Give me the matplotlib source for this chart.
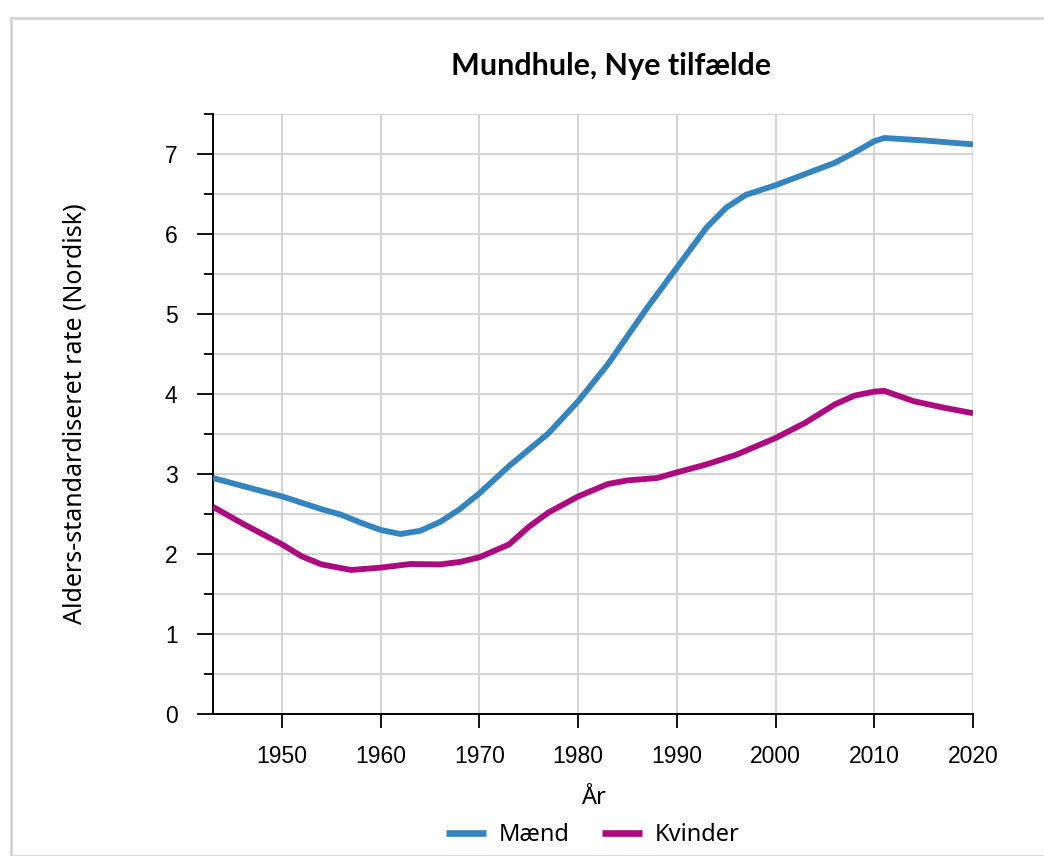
import matplotlib
matplotlib.use("Agg")
import matplotlib.pyplot as plt
from matplotlib.patches import Rectangle
from matplotlib.ticker import MultipleLocator

years_m = [1943, 1946, 1950, 1952, 1954, 1956, 1958, 1960, 1962, 1964, 1966, 1968, 1970, 1973,
           1977, 1980, 1983, 1987, 1990, 1993, 1995, 1997, 2000, 2003, 2006, 2008, 2010, 2011,
           2015, 2020]
maend = [2.95, 2.85, 2.72, 2.64, 2.56, 2.49, 2.39, 2.30, 2.25, 2.29, 2.40, 2.56, 2.76, 3.10,
         3.51, 3.91, 4.37, 5.08, 5.58, 6.08, 6.33, 6.49, 6.61, 6.75, 6.89, 7.02, 7.16, 7.20,
         7.17, 7.12]

years_k = [1943, 1946, 1950, 1952, 1954, 1957, 1960, 1963, 1966, 1968, 1970, 1973, 1975, 1977,
           1980, 1983, 1985, 1988, 1990, 1993, 1996, 2000, 2003, 2006, 2008, 2010, 2011, 2014,
           2017, 2020]
kvinder = [2.59, 2.38, 2.12, 1.97, 1.87, 1.80, 1.83, 1.875, 1.87, 1.90, 1.96, 2.12, 2.34, 2.52,
           2.72, 2.875, 2.92, 2.95, 3.02, 3.12, 3.24, 3.45, 3.64, 3.87, 3.98, 4.03, 4.04, 3.91,
           3.83, 3.76]

x_ticks = [1950, 1960, 1970, 1980, 1990, 2000, 2010, 2020]
y_ticks = [0, 1, 2, 3, 4, 5, 6, 7]

title = "Mundhule, Nye tilfælde"
xlabel = "År"
ylabel = "Alders-standardiseret rate (Nordisk)"
labels = ["Mænd", "Kvinder"]
colors = ["#3484bf", "#ae0a7f"]

fig = plt.figure(figsize=(10.44, 8.56), dpi=100)
fig.patches.append(Rectangle((11 / 1044, 0), 1.2, 1 - 18 / 856, transform=fig.transFigure,
                             fill=False, edgecolor="#d4d4d4", linewidth=2))

ax = fig.add_axes([213 / 1044, 1 - 714 / 856, (973 - 213) / 1044, (714 - 114) / 856])
ax.plot(years_m, maend, color=colors[0], lw=4.2, label=labels[0], solid_capstyle="butt",
        solid_joinstyle="round", zorder=3)
ax.plot(years_k, kvinder, color=colors[1], lw=4.2, label=labels[1], solid_capstyle="butt",
        solid_joinstyle="round", zorder=3)

ax.set_xlim(1943, 2020)
ax.set_ylim(0, 7.5)
ax.set_xticks(x_ticks)
ax.set_yticks(y_ticks)
ax.yaxis.set_minor_locator(MultipleLocator(0.5))
ax.grid(True, which="both", color="#d3d3d3", lw=1.4, zorder=0)
ax.set_axisbelow(True)
for s in ["top", "right"]:
    ax.spines[s].set_visible(False)
for s in ["left", "bottom"]:
    ax.spines[s].set_linewidth(1.4)
    ax.spines[s].set_color("black")
ax.tick_params(axis="y", which="major", length=11.5, width=1.3, pad=14)
ax.tick_params(axis="y", which="minor", length=6.5, width=1.3)
ax.tick_params(axis="x", which="major", length=10, width=1.3, pad=12)
for lab in ax.get_xticklabels() + ax.get_yticklabels():
    lab.set_fontfamily("Liberation Sans")
    lab.set_fontsize(16.5)

fig.text(611 / 1044, 1 - 66 / 856, title, fontsize=22, fontweight="bold", family="Lato",
         ha="center", va="center")
ax.set_xlabel(xlabel, fontsize=17, family="Noto Sans", labelpad=13)
ax.set_ylabel(ylabel, fontsize=18, family="Noto Sans", labelpad=56)

leg = fig.legend(loc="center", bbox_to_anchor=(593 / 1044, 1 - 835 / 856), ncol=2, frameon=False,
                 prop={"family": "Noto Sans", "size": 17}, handlelength=1.7, columnspacing=1.35,
                 handletextpad=0.55)
for h in leg.get_lines():
    h.set_linewidth(4.8)

fig.savefig("out.png", dpi=100)
